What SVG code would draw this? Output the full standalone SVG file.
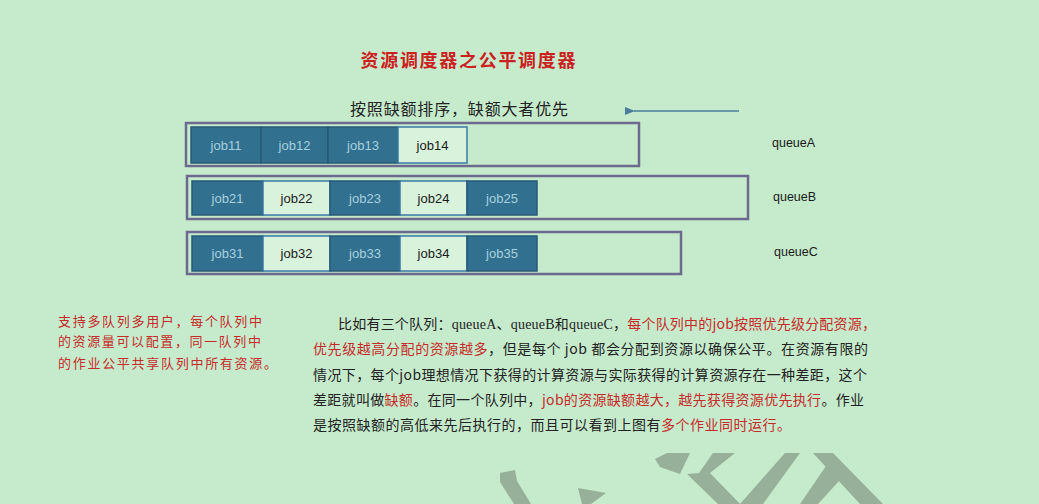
<svg xmlns="http://www.w3.org/2000/svg" width="1039" height="504" viewBox="0 0 1039 504">
<defs>
<style>
.bg{fill:#c6ebcc}
.outer{fill:none;stroke:#6c6a8e;stroke-width:2.5}
.dark{fill:#31708f;stroke:#275a77;stroke-width:1.5}
.light{fill:#d9f2dc;stroke:#3a7aa6;stroke-width:1.5}
.jd{font-family:"Liberation Sans","Noto Sans",sans-serif;font-size:13px;fill:#a6d0de;text-anchor:middle}
.jl{font-family:"Liberation Sans","Noto Sans",sans-serif;font-size:13px;fill:#1a1a1a;text-anchor:middle}
.ql{font-family:"Liberation Sans","Noto Sans",sans-serif;font-size:12.5px;fill:#1a1a1a}
.cn{font-family:"Noto Sans CJK SC","Noto Sans",sans-serif}
.para{font-family:"Noto Sans CJK SC","Noto Sans",sans-serif;font-size:14px;fill:#222}
.red{fill:#c62a2a}
.ser{font-family:"Liberation Serif","Noto Sans CJK SC",serif}
.wm{fill:#96b09a}
</style>
<marker id="ah" viewBox="0 0 10 10" refX="1" refY="5" markerWidth="7" markerHeight="7" orient="auto-start-reverse">
<path d="M0,5 L10,1 L10,9 Z" fill="#4a7d9c"/>
</marker>
</defs>
<rect class="bg" x="0" y="0" width="1039" height="504"/>

<g id="title">
<text x="468" y="67" class="cn" font-size="18" font-weight="bold" fill="#cc1f1f" text-anchor="middle" textLength="215" lengthAdjust="spacing">资源调度器之公平调度器</text>
</g>
<g id="subtitle">
<text x="350" y="115" class="cn" font-size="16" fill="#222" textLength="218" lengthAdjust="spacing">按照缺额排序，缺额大者优先</text>
</g>

<g id="connectors">
<line x1="739" y1="111" x2="634" y2="111" stroke="#4a7d9c" stroke-width="1.5" marker-end="url(#ah)"/>
</g>

<g id="queueA">
<rect class="outer" x="186" y="123" width="453" height="43"/>
<g id="job11"><rect class="dark" x="191" y="127" width="70" height="36"/><text class="jd" x="226" y="150">job11</text></g>
<g id="job12"><rect class="dark" x="261" y="127" width="67" height="36"/><text class="jd" x="294.5" y="150">job12</text></g>
<g id="job13"><rect class="dark" x="328" y="127" width="70" height="36"/><text class="jd" x="363" y="150">job13</text></g>
<g id="job14"><rect class="light" x="398" y="127" width="69" height="36"/><text class="jl" x="432.5" y="150">job14</text></g>
</g>
<g id="labelA"><text class="ql" x="772" y="147">queueA</text></g>

<g id="queueB">
<rect class="outer" x="187" y="176" width="561" height="43"/>
<g id="job21"><rect class="dark" x="192" y="181" width="71" height="34"/><text class="jd" x="227.5" y="203">job21</text></g>
<g id="job22"><rect class="light" x="263" y="181" width="67" height="34"/><text class="jl" x="296.5" y="203">job22</text></g>
<g id="job23"><rect class="dark" x="330" y="181" width="70" height="34"/><text class="jd" x="365" y="203">job23</text></g>
<g id="job24"><rect class="light" x="400" y="181" width="67" height="34"/><text class="jl" x="433.5" y="203">job24</text></g>
<g id="job25"><rect class="dark" x="467" y="181" width="70" height="34"/><text class="jd" x="502" y="203">job25</text></g>
</g>
<g id="labelB"><text class="ql" x="773" y="201">queueB</text></g>

<g id="queueC">
<rect class="outer" x="187" y="232" width="494" height="42"/>
<g id="job31"><rect class="dark" x="192" y="236" width="71" height="35"/><text class="jd" x="227.5" y="258">job31</text></g>
<g id="job32"><rect class="light" x="263" y="236" width="67" height="35"/><text class="jl" x="296.5" y="258">job32</text></g>
<g id="job33"><rect class="dark" x="330" y="236" width="70" height="35"/><text class="jd" x="365" y="258">job33</text></g>
<g id="job34"><rect class="light" x="400" y="236" width="67" height="35"/><text class="jl" x="433.5" y="258">job34</text></g>
<g id="job35"><rect class="dark" x="467" y="236" width="70" height="35"/><text class="jd" x="502" y="258">job35</text></g>
</g>
<g id="labelC"><text class="ql" x="774" y="256">queueC</text></g>

<g id="note" class="cn" font-size="13" fill="#c62a2a">
<text x="58" y="326" textLength="204" lengthAdjust="spacing">支持多队列多用户，每个队列中</text>
<text x="58" y="346" textLength="203" lengthAdjust="spacing">的资源量可以配置，同一队列中</text>
<text x="58" y="368" textLength="219" lengthAdjust="spacing">的作业公平共享队列中所有资源。</text>
</g>

<g id="paragraph" class="para">
<text x="338" y="329" textLength="538" lengthAdjust="spacing">比如有三个队列：<tspan class="ser">queueA</tspan>、<tspan class="ser">queueB</tspan>和<tspan class="ser">queueC</tspan>，<tspan class="red">每个队列中的job按照优先级分配资源，</tspan></text>
<text x="313" y="354" textLength="555" lengthAdjust="spacing"><tspan class="red">优先级越高分配的资源越多</tspan>，但是每个 job 都会分配到资源以确保公平。在资源有限的</text>
<text x="313" y="380" textLength="554" lengthAdjust="spacing">情况下，每个job理想情况下获得的计算资源与实际获得的计算资源存在一种差距，这个</text>
<text x="313" y="405" textLength="551" lengthAdjust="spacing">差距就叫做<tspan class="red">缺额</tspan>。在同一个队列中，<tspan class="red">job的资源缺额越大，越先获得资源优先执行</tspan>。作业</text>
<text x="313" y="430" textLength="478" lengthAdjust="spacing">是按照缺额的高低来先后执行的，而且可以看到上图有<tspan class="red">多个作业同时运行。</tspan></text>
</g>

<g id="watermark" class="wm">
<polygon points="500,473 515,470 517,481 531,504 514,504 500,482"/>
<polygon points="578,488 606,493 591,504 582,504"/>
<polygon points="655,459 667,453 690,453 680,474 660,467"/>
<polygon points="713,453 735,453 710,473 740,504 718,504 687,474 699,473"/>
<polygon points="785,453 800,453 763,504 740,504"/>
<polygon points="813,453 833,453 883,504 860,504"/>
<polygon points="826,466 840,480 818,504 800,504"/>
</g>
</svg>
